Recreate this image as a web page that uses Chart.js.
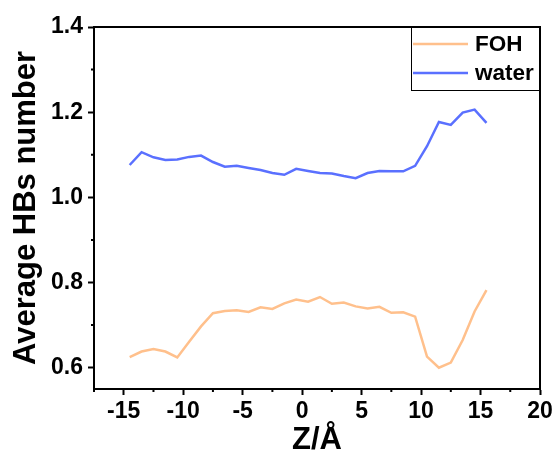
<!DOCTYPE html>
<html lang="en">
<head>
    <meta charset="UTF-8">
    <title>Average HBs number along Z</title>
    <script src="https://cdn.jsdelivr.net/npm/chart.js"></script>
    <style>
        body {
            margin: 0;
            padding: 0;
            background-color: #ffffff;
        }
        #wrap {
            width: 557px;
            height: 459px;
        }
    </style>
</head>
<body>
    <div id="wrap">
        <canvas id="myChart" width="557" height="459"></canvas>
    </div>

    <script>
        // Z positions (Å) of the bins
        var zPositions = [-14.5, -13.5, -12.5, -11.5, -10.5, -9.5, -8.5, -7.5, -6.5, -5.5,
                          -4.5, -3.5, -2.5, -1.5, -0.5, 0.5, 1.5, 2.5, 3.5, 4.5,
                          5.5, 6.5, 7.5, 8.5, 9.5, 10.5, 11.5, 12.5, 13.5, 14.5, 15.5];

        // average number of hydrogen bonds per molecule
        var fohValues = [0.625, 0.638, 0.644, 0.638, 0.624, 0.661, 0.697, 0.728, 0.733, 0.735,
                         0.731, 0.742, 0.738, 0.751, 0.760, 0.755, 0.766, 0.750, 0.753, 0.744,
                         0.739, 0.743, 0.729, 0.730, 0.720, 0.626, 0.600, 0.612, 0.665, 0.732, 0.782];
        var waterValues = [1.076, 1.106, 1.094, 1.088, 1.089, 1.095, 1.098, 1.083, 1.072, 1.074,
                           1.069, 1.064, 1.057, 1.053, 1.067, 1.062, 1.057, 1.056, 1.050, 1.045,
                           1.057, 1.062, 1.061, 1.061, 1.074, 1.120, 1.177, 1.170, 1.199, 1.206, 1.175];

        var xMajorTicks = [-15, -10, -5, 0, 5, 10, 15, 20];
        var xMinorTicks = [-17.5, -12.5, -7.5, -2.5, 2.5, 7.5, 12.5, 17.5];
        var yMajorTicks = [0.6, 0.8, 1.0, 1.2, 1.4];
        var yMinorTicks = [0.7, 0.9, 1.1, 1.3];

        var FONT = 'Arial, "Liberation Sans", sans-serif';

        function toPoints(values) {
            return zPositions.map(function (z, i) { return { x: z, y: values[i] }; });
        }

        // frame on top/right, minor ticks, and the boxed legend in the upper right corner
        var framePlugin = {
            id: 'frame',
            afterDraw: function (chart) {
                var ctx = chart.ctx;
                var area = chart.chartArea;
                var xs = chart.scales.x;
                var ys = chart.scales.y;
                ctx.save();
                ctx.strokeStyle = '#000';
                ctx.lineWidth = 2;
                ctx.beginPath();
                ctx.moveTo(area.left, area.top);
                ctx.lineTo(area.right, area.top);
                ctx.lineTo(area.right, area.bottom);
                ctx.stroke();

                ctx.beginPath();
                xMinorTicks.forEach(function (v) {
                    var px = xs.getPixelForValue(v);
                    ctx.moveTo(px, area.bottom);
                    ctx.lineTo(px, area.bottom + 3);
                });
                yMinorTicks.forEach(function (v) {
                    var py = ys.getPixelForValue(v);
                    ctx.moveTo(area.left, py);
                    ctx.lineTo(area.left - 3, py);
                });
                ctx.stroke();

                // legend
                var boxW = 129, boxH = 63;
                var bx = area.right - boxW, by = area.top;
                ctx.lineWidth = 1;
                ctx.strokeRect(bx + 0.5, by + 0.5, boxW, boxH);
                ctx.font = 'bold 22.5px ' + FONT;
                ctx.textBaseline = 'middle';
                ctx.textAlign = 'left';
                chart.data.datasets.forEach(function (ds, i) {
                    var ly = by + 17 + i * 29;
                    ctx.strokeStyle = ds.borderColor;
                    ctx.lineWidth = 2.5;
                    ctx.beginPath();
                    ctx.moveTo(bx + 2, ly);
                    ctx.lineTo(bx + 57, ly);
                    ctx.stroke();
                    ctx.fillStyle = '#000';
                    ctx.fillText(ds.label, bx + 64, ly + 1);
                });
                ctx.restore();
            }
        };

        var ctx = document.getElementById('myChart').getContext('2d');
        var myChart = new Chart(ctx, {
            type: 'line',
            data: {
                datasets: [{
                    label: 'FOH',
                    data: toPoints(fohValues),
                    borderColor: 'rgb(255, 192, 140)',
                    borderWidth: 2.5,
                    pointRadius: 0,
                    tension: 0,
                    fill: false
                }, {
                    label: 'water',
                    data: toPoints(waterValues),
                    borderColor: 'rgb(90, 112, 255)',
                    borderWidth: 2.5,
                    pointRadius: 0,
                    tension: 0,
                    fill: false
                }]
            },
            options: {
                responsive: false,
                animation: false,
                devicePixelRatio: 1,
                layout: {
                    padding: { top: 27, right: 17, left: 0, bottom: 0 }
                },
                plugins: {
                    legend: { display: false },
                    tooltip: { enabled: false }
                },
                scales: {
                    x: {
                        type: 'linear',
                        min: -17.5,
                        max: 20,
                        afterBuildTicks: function (scale) {
                            scale.ticks = xMajorTicks.map(function (v) { return { value: v }; });
                        },
                        afterFit: function (scale) { scale.height = 70; },
                        grid: {
                            display: true,
                            drawOnChartArea: false,
                            tickLength: 6,
                            tickWidth: 2,
                            tickColor: '#000'
                        },
                        border: { display: true, color: '#000', width: 2 },
                        ticks: {
                            color: '#000',
                            padding: 3,
                            maxRotation: 0,
                            font: { family: FONT, size: 23, weight: 'bold' }
                        },
                        title: {
                            display: true,
                            text: 'Z/Å',
                            color: '#000',
                            padding: { top: 0, bottom: 0 },
                            font: { family: FONT, size: 31, weight: 'bold' }
                        }
                    },
                    y: {
                        min: 0.55,
                        max: 1.4,
                        afterBuildTicks: function (scale) {
                            scale.ticks = yMajorTicks.map(function (v) { return { value: v }; });
                        },
                        afterFit: function (scale) { scale.width = 94; },
                        grid: {
                            display: true,
                            drawOnChartArea: false,
                            tickLength: 6,
                            tickWidth: 2,
                            tickColor: '#000'
                        },
                        border: { display: true, color: '#000', width: 2 },
                        ticks: {
                            color: '#000',
                            padding: 5,
                            font: { family: FONT, size: 23, weight: 'bold' },
                            callback: function (v) { return v.toFixed(1); }
                        },
                        title: {
                            display: true,
                            text: 'Average HBs number',
                            color: '#000',
                            padding: { top: 8, bottom: 0 },
                            font: { family: FONT, size: 31, weight: 'bold' }
                        }
                    }
                }
            },
            plugins: [framePlugin]
        });
    </script>
</body>
</html>
